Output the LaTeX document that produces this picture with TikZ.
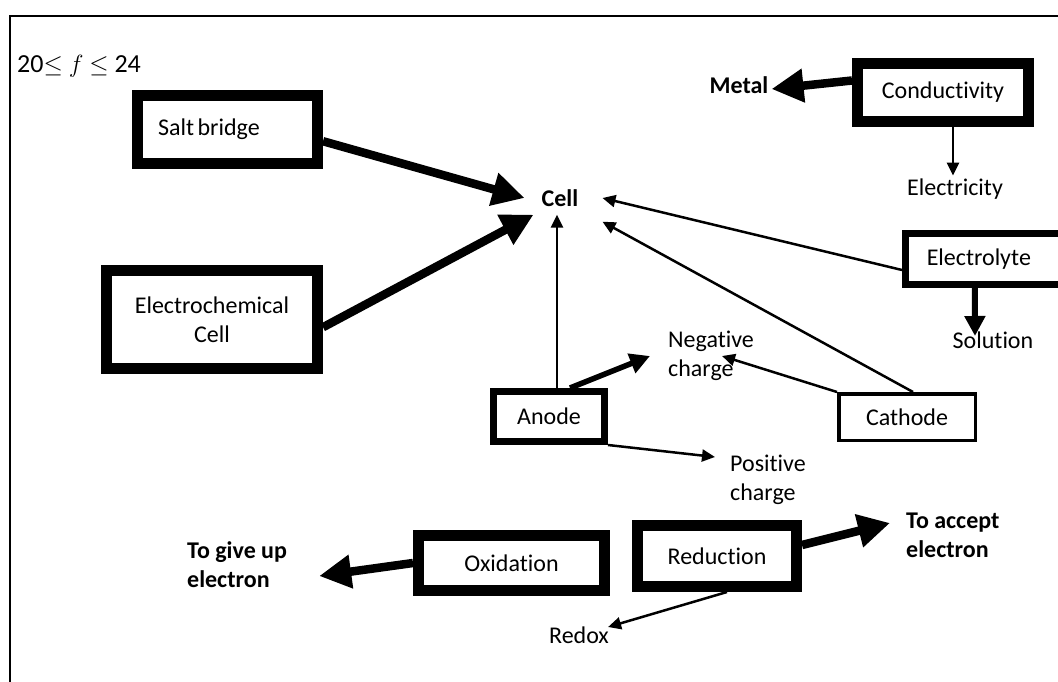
\documentclass[tikz,border=0pt]{standalone}
\usepackage{fontspec}
\setmainfont{Carlito}[Ligatures=NoCommon]
\usetikzlibrary{arrows.meta}
\begin{document}
\begin{tikzpicture}[
  x=1pt, y=-1pt,
  every node/.style={font=\fontsize{24}{29}\selectfont, inner sep=3pt},
  bold/.style={font=\fontsize{24}{29}\selectfont\bfseries},
  box/.style={draw, line width=11pt, inner sep=0pt, align=center},
  heavy/.style={-{Triangle[length=32pt, width=32pt]}, line width=8.5pt},
  medium/.style={-{Triangle[length=20pt, width=20pt]}, line width=5.5pt},
  thin/.style={-{Triangle[length=13pt, width=12pt]}, line width=2.5pt}
]
\useasboundingbox (0,0) rectangle (1058,682);
\clip (0,0) rectangle (1058,682);
\draw[line width=2pt] (10,16) rectangle (1080,700);

\node[anchor=west, inner sep=0pt, font=\fontsize{26}{30}\selectfont] (range) at (17,66) {20$\leq$ $f$ $\leq$ 24};

\node[box, minimum width=180pt, minimum height=68pt, text width=139pt, align=left] (salt) at (227.5,129.5) {Salt\hspace{0.15em}bridge};
\node[box, minimum width=211pt, minimum height=98pt] (electro) at (212,319.5) {Electrochemical\\Cell};
\node[box, minimum width=171pt, minimum height=58pt] (cond) at (943,92.5) {Conductivity};
\node[box, line width=7pt, minimum width=170.5pt, minimum height=51pt, text width=128pt, align=left] (electrolyte) at (990.75,259) {Electrolyte};
\node[box, line width=7pt, minimum width=111pt, minimum height=50pt] (anode) at (549,416.5) {Anode};
\node[box, line width=3.5pt, minimum width=136.5pt, minimum height=46.5pt] (cathode) at (907,417) {Cathode};
\node[box, minimum width=186pt, minimum height=55pt] (oxid) at (511.5,563) {Oxidation};
\node[box, minimum width=159pt, minimum height=61pt] (reduc) at (717,556) {Reduction};

\node[bold, inner xsep=17pt, inner ysep=8pt] (cell) at (560,198) {Cell};
\node[bold] (metal) at (739,85) {Metal};
\node (electricity) at (955,189) {Electricity};
\node (solution) at (993,340) {Solution};
\node[anchor=west, inner sep=0pt, align=left] (negative) at (668,356) {Negative\\charge};
\node[anchor=west, inner sep=0pt, align=left] (positive) at (730,480) {Positive\\charge};
\node[bold, anchor=west, align=left] (giveup) at (184,565) {To give up\\electron};
\node[bold, anchor=west, align=left] (accept) at (903,535) {To accept\\electron};
\node (redox) at (579,635) {Redox};

\draw[heavy] (salt.-7) -- (cell.west);
\draw[heavy] (electro.-4) -- ([xshift=9pt]cell.south west);
\draw[thin] ([xshift=8pt]anode.north) -- ([xshift=-3pt]cell.south);
\draw[thin] ([yshift=-11pt]electrolyte.west) -- ([xshift=7pt]cell.east);
\draw[thin] ([xshift=6pt]cathode.north) -- ([xshift=7pt,yshift=-7pt]cell.south east);
\draw[medium] ([xshift=21pt]anode.north) -- ([xshift=-18pt]negative.west);
\draw[thin] (cathode.north west) -- ([xshift=11pt]negative.center);
\draw[thin] (anode.south east) -- ([xshift=-15pt,yshift=23pt]positive.west);
\draw[heavy] ([yshift=12pt]cond.west) -- ([yshift=-4pt]metal.east);
\draw[thin] ([xshift=10pt]cond.south) -- ([xshift=-2pt]electricity.north);
\draw[medium, line width=6pt] ([xshift=-16pt]electrolyte.south) -- ([xshift=-18pt,yshift=4pt]solution.center);
\draw[heavy] (oxid.west) -- ([xshift=29pt,yshift=-11pt]giveup.east);
\draw[heavy] ([yshift=11pt]reduc.east) -- ([xshift=-13pt,yshift=12pt]accept.west);
\draw[thin] ([xshift=10pt]reduc.south) -- ([xshift=-4pt,yshift=8pt]redox.east);
\end{tikzpicture}
\end{document}
